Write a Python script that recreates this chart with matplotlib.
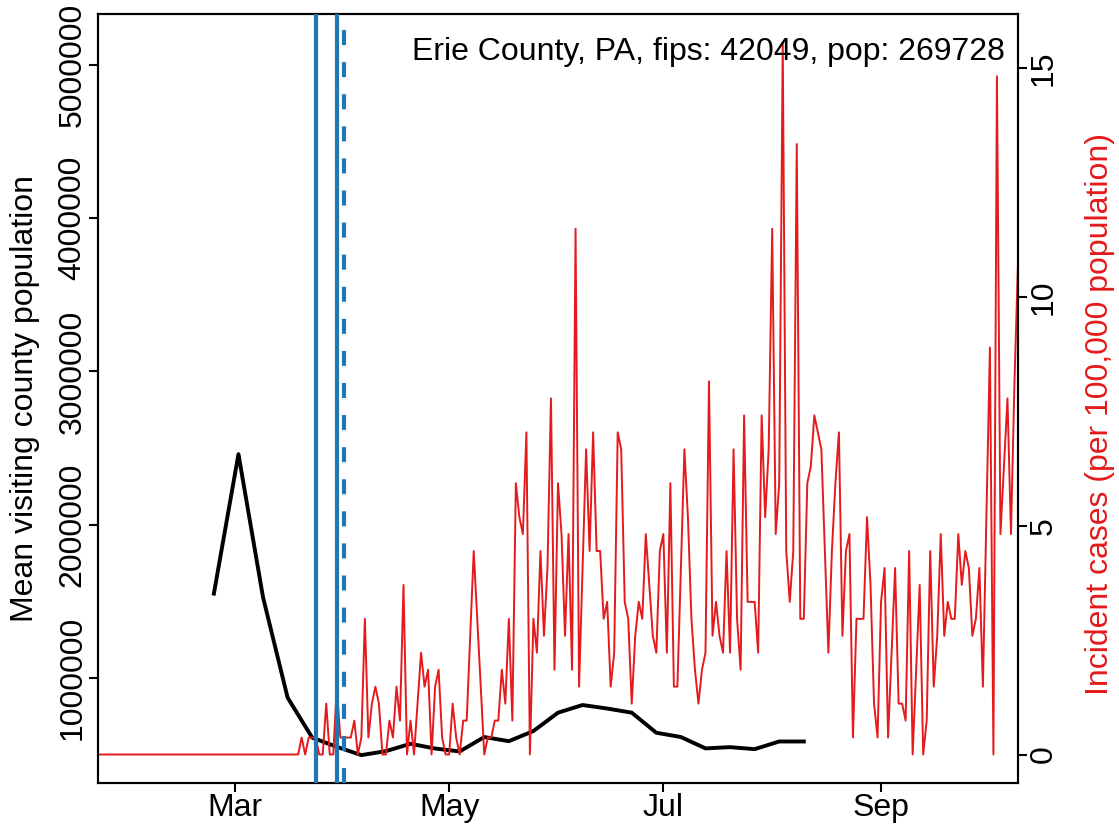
import numpy as np
import matplotlib
matplotlib.use("Agg")
from matplotlib import pyplot as plt

plt.rcParams['font.family'] = ['Liberation Sans', 'DejaVu Sans']

POP = 269728

# daily reported cases, Jan 22 .. Oct 10 2020
case_dates = np.arange('2020-01-22', '2020-10-11', dtype='datetime64[D]')
cases = [
    0, 0, 0, 0, 0, 0, 0, 0, 0, 0,
    0, 0, 0, 0, 0, 0, 0, 0, 0, 0,
    0, 0, 0, 0, 0, 0, 0, 0, 0, 0,
    0, 0, 0, 0, 0, 0, 0, 0, 0, 0,
    0, 0, 0, 0, 0, 0, 0, 0, 0, 0,
    0, 0, 0, 0, 0, 0, 0, 0,
    1, 0, 1, 1, 1, 0, 0, 3, 0, 0,
    4, 1, 1, 1, 1, 2, 0, 1, 8, 1,
    3, 4, 3, 0, 0, 2, 1, 4, 2, 10,
    0, 2, 0, 3, 6, 4, 5, 0, 4, 5,
    1, 0, 0, 3, 1, 0, 2, 2, 7, 12,
    8, 4, 0, 1, 1, 2, 2, 5, 3, 8,
    2, 16, 14, 13, 19, 0, 8, 6, 12, 7,
    11, 21, 5, 16, 13, 7, 13, 5, 31, 4,
    11, 18, 12, 19, 12, 12, 8, 9, 4, 6,
    19, 18, 9, 8, 3, 7, 9, 8, 13, 10,
    7, 6, 12, 13, 6, 16, 4, 4, 11, 18,
    14, 8, 5, 3, 5, 6, 22, 7, 9, 7,
    6, 12, 6, 18, 8, 5, 20, 9, 9, 9,
    6, 20, 14, 18, 31, 13, 16, 42, 12, 9,
    12, 36, 8, 8, 16, 17, 20, 19, 18, 12,
    6, 12, 16, 19, 7, 12, 13, 1, 8, 8,
    8, 14, 10, 3, 1, 9, 11, 1, 6, 11,
    3, 3, 2, 12, 0, 5, 10, 0, 2, 12,
    4, 7, 13, 7, 9, 8, 8, 13, 10, 12,
    11, 7, 8, 11, 4, 14, 24, 0, 40, 13,
    17, 21, 13, 22, 29,
]

# weekly mean visiting population
week_dates = np.arange('2020-02-24', '2020-08-11', 7, dtype='datetime64[D]')
visitors = [1550000, 2460000, 1526000, 871000, 610000, 550000, 496000,
            522000, 570000, 539000, 520000, 614000, 587000, 653000,
            773000, 823000, 800000, 773000, 642000, 614000, 540000,
            548000, 535000, 585000, 585000]

solid_events = np.array(['2020-03-24', '2020-03-30'], dtype='datetime64[D]')
dashed_events = np.array(['2020-04-01'], dtype='datetime64[D]')

left_ticks = [1000000, 2000000, 3000000, 4000000, 5000000]
right_ticks = [0, 5, 10, 15]
month_ticks = np.array(['2020-03-01', '2020-05-01', '2020-07-01', '2020-09-01'],
                       dtype='datetime64[D]')
month_labels = ['Mar', 'May', 'Jul', 'Sep']

incidence = np.array(cases) / POP * 1e5

W, H = 1119, 831
fig = plt.figure(figsize=(W / 100, H / 100), dpi=100)
ax = fig.add_axes([98 / W, 1 - 783 / H, 920 / W, 769 / H])
ax2 = ax.twinx()

ax.plot(week_dates, visitors, color='black', lw=2.8, zorder=3)
ax2.plot(case_dates, incidence, color='#E41A1C', lw=1.4, zorder=2)
for d in solid_events:
    ax2.axvline(d, color='#1F78B4', lw=3, zorder=4)
for d in dashed_events:
    ax2.axvline(d, color='#1F78B4', lw=3, ls=(0, (3.6, 4.1)), zorder=4)

ax.set_xlim(case_dates[0], case_dates[-1])
ax.set_ylim(314000, 5333000)
ax2.set_ylim(-0.623, 16.19)

fs = 23
ax.set_xticks(month_ticks)
ax.set_xticklabels(month_labels, fontsize=fs)
ax.set_yticks(left_ticks)
ax.set_yticklabels([str(v) for v in left_ticks], fontsize=fs, rotation=90, va='center')
ax2.set_yticks(right_ticks)
ax2.set_yticklabels([str(v) for v in right_ticks], fontsize=fs, rotation=90, va='center')

for a in (ax, ax2):
    a.tick_params(length=6.5, width=1.5, pad=1)
    for s in a.spines.values():
        s.set_linewidth(1.5)

fig.text(25 / W, 1 - 399 / H, 'Mean visiting county population', fontsize=fs,
         rotation=90, ha='center', va='center')
fig.text(1100 / W, 1 - 414 / H, 'Incident cases (per 100,000 population)',
         fontsize=fs, rotation=90, ha='center', va='center', color='#E41A1C')
fig.text(1005 / W, 1 - 52 / H, 'Erie County, PA, fips: 42049, pop: 269728',
         fontsize=fs, ha='right', va='center')

fig.savefig('out.png', dpi=100)
